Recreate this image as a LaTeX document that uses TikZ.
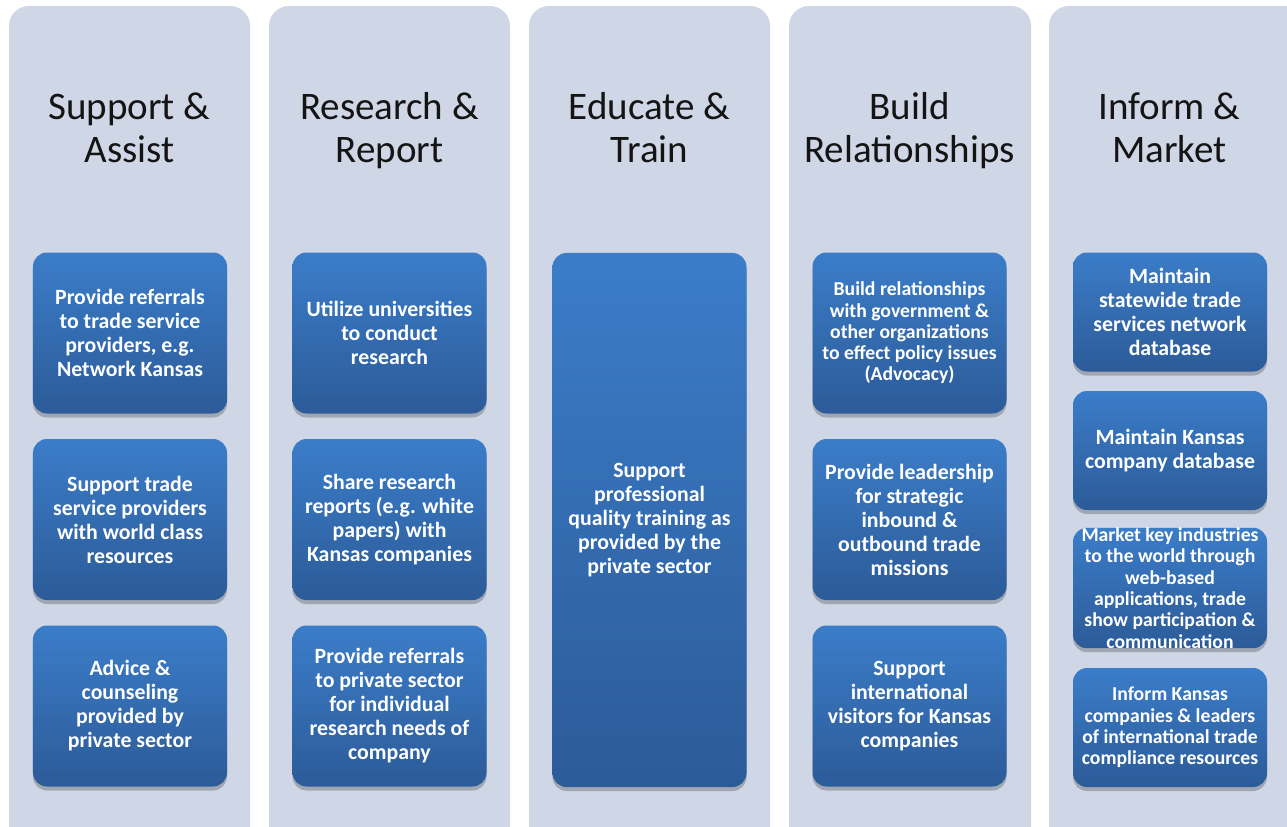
\documentclass[tikz,border=0pt]{standalone}
\usepackage{fontspec}
\setmainfont{Carlito}
\usetikzlibrary{shadows}
\definecolor{colbg}{RGB}{207,214,229}
\definecolor{bluetop}{RGB}{59,125,201}
\definecolor{bluebot}{RGB}{44,91,152}
\definecolor{hdrtext}{RGB}{20,20,20}
\tikzset{
  colpanel/.style={fill=colbg, rounded corners=20bp},
  hdr/.style={align=center, text=hdrtext, inner sep=0pt,
    font=\fontsize{39bp}{43bp}\selectfont},
  bluebox/.style={rounded corners=14bp, top color=bluetop, bottom color=bluebot,
    draw=none, text=white, align=center, inner sep=0pt, minimum width=194bp,
    drop shadow={shadow xshift=0bp, shadow yshift=-4bp, fill=black, opacity=0.22},
    font=\bfseries\fontsize{21.8bp}{24bp}\selectfont},
  smalltxt/.style={font=\bfseries\fontsize{19.7bp}{21.3bp}\selectfont},
  tall/.style={minimum height=161bp},
  short/.style={minimum height=119bp}
}
\begin{document}
\begin{tikzpicture}[x=1bp,y=-1bp]
\useasboundingbox (0,0) rectangle (1287,827);
\clip (0,0) rectangle (1287,827);
% columns
\path[colpanel] (9,6) rectangle (250,850);
\path[colpanel] (269,6) rectangle (510,850);
\path[colpanel] (529,6) rectangle (770,850);
\path[colpanel] (789,6) rectangle (1031,850);
\path[colpanel] (1049,6) rectangle (1310,850);
% headers
\node[hdr] (h1) at (129.5,132.5) {\strut Support \&\\\strut Assist};
\node[hdr] (h2) at (389.5,132.5) {\strut Research \&\\\strut Report};
\node[hdr] (h3) at (649.5,132.5) {\strut Educate \&\\\strut Train};
\node[hdr] (h4) at (909.5,132.5) {\strut Build\\\strut Relationships};
\node[hdr] (h5) at (1169.5,132.5) {\strut Inform \&\\\strut Market};
% column 1
\node[bluebox, tall] (a1) at (130,333) {Provide referrals\\to trade service\\providers, e.g.\\Network Kansas};
\node[bluebox, tall] (a2) at (130,519.5) {Support trade\\service providers\\with world class\\resources};
\node[bluebox, tall] (a3) at (130,706) {Advice \&\\counseling\\provided by\\private sector};
% column 2
\node[bluebox, tall] (b1) at (389.5,333) {Utilize universities\\to conduct\\research};
\node[bluebox, tall] (b2) at (389.5,519.5) {Share research\\reports (e.g. white\\papers) with\\Kansas companies};
\node[bluebox, tall] (b3) at (389.5,706) {Provide referrals\\to private sector\\for individual\\research needs of\\company};
% column 3
\node[bluebox, minimum height=534bp] (c1) at (649.5,520) {Support\\professional\\quality training as\\provided by the\\private sector};
% column 4
\node[bluebox, tall, smalltxt] (d1) at (909.5,333) {Build relationships\\with government \&\\other organizations\\to effect policy issues\\(Advocacy)};
\node[bluebox, tall] (d2) at (909.5,519.5) {Provide leadership\\for strategic\\inbound \&\\outbound trade\\missions};
\node[bluebox, tall] (d3) at (909.5,706) {Support\\international\\visitors for Kansas\\companies};
% column 5
\node[bluebox, short] (e1) at (1170,312) {Maintain\\statewide trade\\services network\\database};
\node[bluebox, short] (e2) at (1170,450.5) {Maintain Kansas\\company database};
\node[bluebox, short, smalltxt] (e3) at (1170,588) {Market key industries\\to the world through\\web-based\\applications, trade\\show participation \&\\communication};
\node[bluebox, short, smalltxt] (e4) at (1170,727.5) {Inform Kansas\\companies \& leaders\\of international trade\\compliance resources};
\end{tikzpicture}
\end{document}
